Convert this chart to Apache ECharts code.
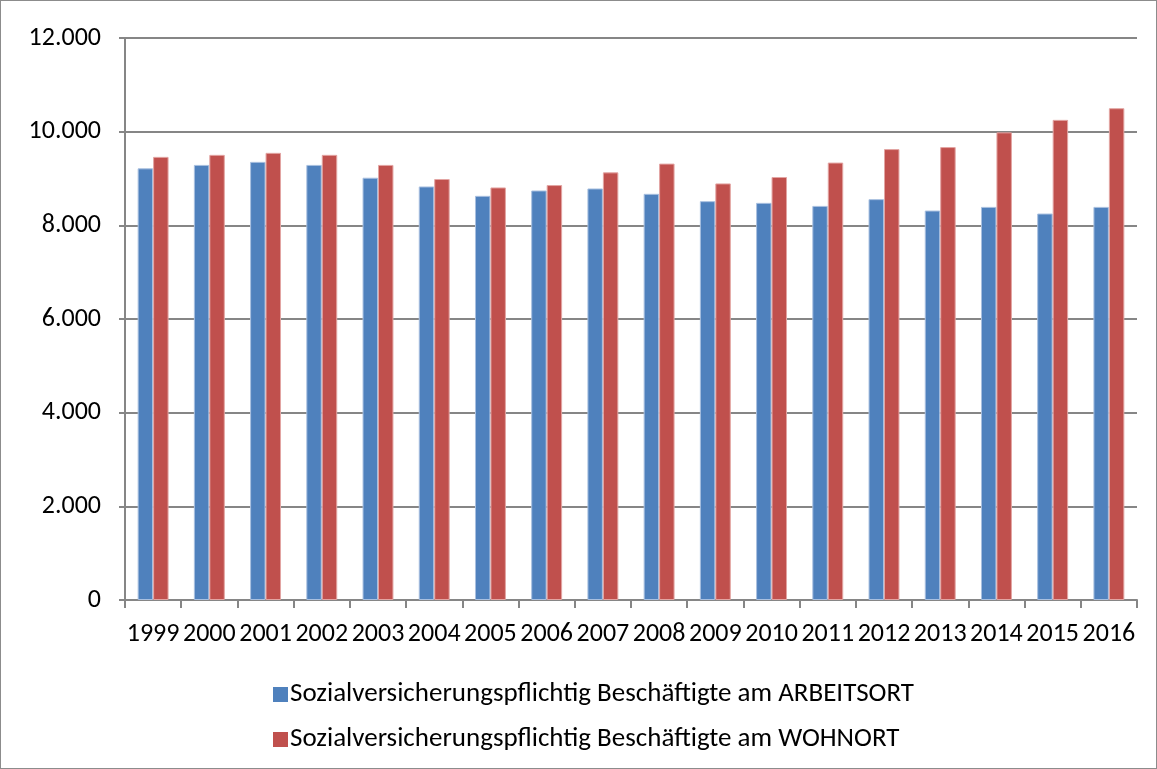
<!DOCTYPE html>
<html>
<head>
<meta charset="utf-8">
<script src="https://cdn.jsdelivr.net/npm/echarts@6/dist/echarts.min.js"></script>
<style>
html,body{margin:0;padding:0;background:#fff;}
#chart{width:1157px;height:769px;box-sizing:border-box;border:1px solid #8c8c8c;}
</style>
</head>
<body>
<div id="chart"></div>
<script>
const years = ['1999','2000','2001','2002','2003','2004','2005','2006','2007','2008','2009','2010','2011','2012','2013','2014','2015','2016'];
const arbeitsort = [9217,9290,9355,9290,9017,8830,8630,8744,8787,8673,8516,8480,8415,8559,8316,8394,8252,8394];
const wohnort = [9462,9505,9548,9505,9290,8989,8809,8860,9131,9318,8895,9032,9340,9628,9671,9985,10252,10501];
const seriesNames = ['Sozialversicherungspflichtig Beschäftigte am ARBEITSORT','Sozialversicherungspflichtig Beschäftigte am WOHNORT'];
const yTicks = {min:0, max:12000, interval:2000};

const font = 'Carlito, Lato, "Liberation Sans", sans-serif';
const chart = echarts.init(document.getElementById('chart'));
chart.setOption({
  animation:false,
  textStyle:{fontFamily:font},
  grid:{left:124,right:19,top:37,bottom:168,containLabel:false},
  legend:{
    orient:'vertical', left:267, top:675, itemGap:18,
    itemWidth:15, itemHeight:15, icon:'rect', itemStyle:{borderWidth:0},
    textStyle:{fontSize:27,color:'#000',fontFamily:font,padding:[0,0,0,-3]}
  },
  xAxis:{
    type:'category', data:years,
    axisLine:{lineStyle:{color:'#868686',width:2}},
    axisTick:{show:true,length:8,lineStyle:{color:'#868686',width:2}},
    axisLabel:{color:'#000',fontSize:26,margin:21,interval:0,fontFamily:font}
  },
  yAxis:{
    type:'value', min:yTicks.min, max:yTicks.max, interval:yTicks.interval,
    axisLine:{show:true,lineStyle:{color:'#868686',width:2}},
    axisTick:{show:true,length:6,lineStyle:{color:'#868686',width:2}},
    splitLine:{lineStyle:{color:'#868686',width:2}},
    axisLabel:{color:'#000',fontSize:26,margin:24,fontFamily:font,
      formatter:v=>v===0?'0':v.toLocaleString('de-DE')}
  },
  series:[
    {name:seriesNames[0],type:'bar',data:arbeitsort,barGap:'0%',barCategoryGap:'45%',
     itemStyle:{color:'#4F81BD',borderColor:'#a9c0e0',borderWidth:1}},
    {name:seriesNames[1],type:'bar',data:wohnort,
     itemStyle:{color:'#C0504D',borderColor:'#e3a5a3',borderWidth:1}}
  ]
});
</script>
</body>
</html>
